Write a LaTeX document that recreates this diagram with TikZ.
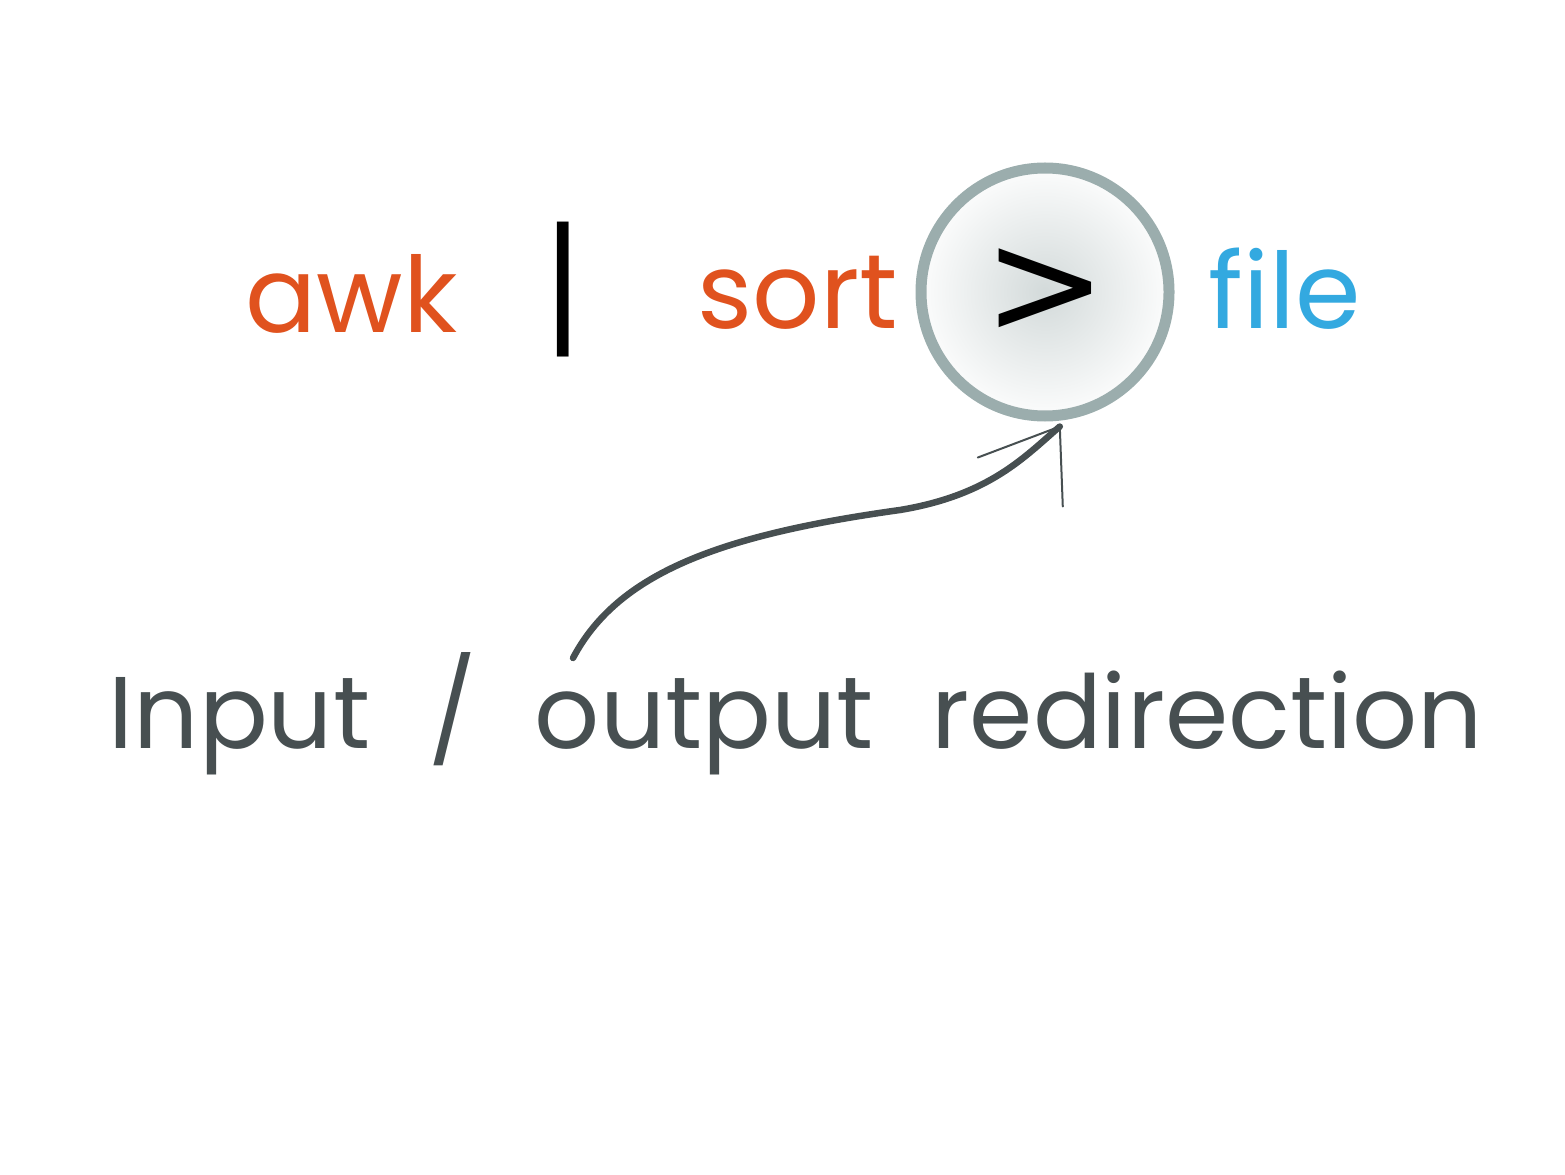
\documentclass[tikz,border=0pt]{standalone}
\usepackage{fontspec}
\setmainfont{Poppins}
\newfontfamily\signfont{DejaVu Sans}
\newfontfamily\barfont{Liberation Sans}
\usetikzlibrary{calc}
\definecolor{cmdorange}{HTML}{E0521E}
\definecolor{fileblue}{HTML}{33A9E0}
\definecolor{inkgray}{HTML}{474F51}
\definecolor{ringgray}{HTML}{9BADAD}
\definecolor{hazegray}{HTML}{D3DADA}
\begin{document}
\begin{tikzpicture}[
  cmd/.style={anchor=base west, inner sep=0pt, font=\fontsize{30}{30}\selectfont},
  ring/.style={circle, minimum size=2.48cm, inner sep=0pt, draw=ringgray, line width=0.11cm,
    inner color=hazegray, outer color=white!92!hazegray, font=\signfont\fontsize{42}{42}\selectfont},
  caption/.style={anchor=base west, inner sep=0pt, text=inkgray,
    font=\fontsize{29}{29}\selectfont, execute at begin node={\spaceskip=0.57em\relax}},
  arrowline/.style={draw=inkgray, line width=0.065cm, line cap=round},
  headline/.style={draw=inkgray, line width=0.02cm, line cap=round, line join=round}
]
\useasboundingbox (0,0) rectangle (15.65,11.74);

% Command
\node[cmd, text=cmdorange] (awk) at (2.45,8.41) {awk};
\node[cmd, anchor=center, font=\barfont\fontsize{41}{41}\selectfont] (pipe) at (5.63,8.84) {|};
\node[cmd, text=cmdorange] (sort) at (6.97,8.46) {sort};
\node[ring] (gt) at (10.45,8.82) {>};
\node[cmd, text=fileblue] (file) at (12.08,8.46) {file};

% Caption
\node[caption] (redir) at (1.08,4.26) {Input / output redirection};

% Arrow from caption to the redirect sign
\coordinate (src) at (5.73,5.16);
\coordinate (bend) at (9.00,6.64);
\coordinate (tip) at ([shift={(-0.01,-0.06)}]gt.-83);
\draw[arrowline] (src) .. controls +(0.45,0.85) and +(-1.8,-0.25) .. (bend)
  .. controls +(0.9,0.15) and +(-0.35,-0.3) .. (tip);
\draw[headline] ($(tip)+(-0.82,-0.31)$) -- (tip) -- ($(tip)+(0.03,-0.80)$);

\end{tikzpicture}
\end{document}
